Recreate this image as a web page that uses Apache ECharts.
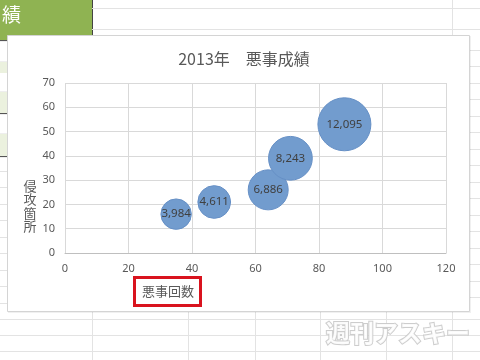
<!DOCTYPE html>
<html><head><meta charset="utf-8">
<script src="https://cdn.jsdelivr.net/npm/echarts@6/dist/echarts.min.js"></script>
<style>html,body{margin:0;padding:0;background:#fff}#c{width:480px;height:360px}</style>
</head><body><div id="c"></div>
<script>
// Data
const titleText = '2013年　悪事成績';
const xName = '悪事回数';
const yName = '侵攻箇所';
const crimes = [35, 47, 64, 71, 88];      // x: 悪事回数
const spots = [16, 21, 26, 39, 53];       // y: 侵攻箇所
const scores = [3984, 4611, 6886, 8243, 12095]; // bubble size
const xTicks = [0, 20, 40, 60, 80, 100, 120];
const yTicks = [0, 10, 20, 30, 40, 50, 60, 70];

const maxScore = Math.max(...scores);
const maxDiam = 53;
const data = crimes.map((x, i) => [x, spots[i], scores[i]]);

// spreadsheet background decoration
const bg = [];
const gridCol = '#e3e3e3';
function hline(y, x1, x2, c, w) { bg.push({type:'line', z:-20, shape:{x1:x1,y1:y,x2:x2,y2:y}, style:{stroke:c||gridCol, lineWidth:w||1}}); }
function vline(x, y1, y2, c) { bg.push({type:'line', z:-20, shape:{x1:x,y1:y1,x2:x,y2:y2}, style:{stroke:c||gridCol, lineWidth:1}}); }
// header green cells
bg.push({type:'rect', z:-19, shape:{x:0,y:0,width:92,height:30}, style:{fill:'#8fb352'}});
bg.push({type:'rect', z:-19, shape:{x:0,y:30,width:92,height:10}, style:{fill:'#8fb352'}});
bg.push({type:'text', z:-18, style:{text:'績', x:2, y:15, fill:'#fff', font:'19px "Noto Sans CJK JP"', verticalAlign:'middle'}});
hline(30.5, 0, 92, '#333', 1.5);
vline(92.5, 0, 40, '#444');
// left strip rows
[[62,73],[92,113],[134,156]].forEach(r=>bg.push({type:'rect', z:-19, shape:{x:0,y:r[0],width:7,height:r[1]-r[0]}, style:{fill:'#ebf1de'}}));
[40,62,92,113,134,156].forEach(y=>hline(y+0.5,0,7,'#555',1.2));
[171,187,204,220,237,253,270,286,303].forEach(y=>hline(y+0.5,0,7));
// top / right rows
[8,29].forEach(y=>hline(y+0.5,92,480));
[50,66,83,99,116,132,149,165,182,198,215,231,248,264,281,297].forEach(y=>hline(y+0.5,470,480));
[319,335,351].forEach(y=>hline(y+0.5,0,480));
[92,188,255,320,386,452].forEach(x=>vline(x+0.5,312,360));
vline(452.5,0,35);
// chart area box
bg.push({type:'rect', z:-10, shape:{x:8,y:36,width:463,height:277}, style:{fill:'rgba(0,0,0,0.06)'}});
bg.push({type:'rect', z:-9, shape:{x:7.5,y:35.5,width:462,height:276}, style:{fill:'#fff', stroke:'#d4d4d4', lineWidth:1}});

const option = {
  backgroundColor: '#fff',
  animation: false,
  title: {
    text: titleText, left: 239, top: 46, textAlign: 'center',
    textStyle: {fontFamily: '"Noto Sans CJK JP"', fontSize: 16, fontWeight: 'normal', color: '#595959'}
  },
  grid: {left: 65, top: 83, right: 34, bottom: 107},
  xAxis: {
    type: 'value', min: 0, max: 120, interval: 20,
    axisLine: {show: true, lineStyle: {color: '#bfbfbf'}},
    axisTick: {show: false},
    splitLine: {show: true, lineStyle: {color: '#d9d9d9'}},
    axisLabel: {color: '#595959', fontSize: 11, margin: 10, fontFamily: '"Noto Sans"',
      formatter: v => xTicks.includes(v) ? String(v) : ''}
  },
  yAxis: {
    type: 'value', min: 0, max: 70, interval: 10,
    axisLine: {show: false},
    axisTick: {show: false},
    splitLine: {show: true, lineStyle: {color: '#d9d9d9'}},
    axisLabel: {color: '#595959', fontSize: 11, margin: 10, fontFamily: '"Noto Sans"',
      formatter: v => yTicks.includes(v) ? String(v) : ''}
  },
  graphic: bg.concat([
    {type:'text', z:10, style:{text: yName.split('').join('\n'), x:30, y:206, align:'center', verticalAlign:'middle',
      fill:'#595959', font:'13px "Noto Sans CJK JP"', lineHeight:13.5}},
    {type:'rect', z:10, shape:{x:134.5,y:277.5,width:66,height:28}, style:{fill:'none', stroke:'#d9131e', lineWidth:3}},
    {type:'text', z:10, style:{text: xName, x:168, y:291, align:'center', verticalAlign:'middle',
      fill:'#595959', font:'13px "Noto Sans CJK JP"'}},
    {type:'text', z:10, style:{text:'週刊アスキー', x:398, y:333, align:'center', verticalAlign:'middle',
      fill:'#ffffff', stroke:'#c8c8c8', lineWidth:2, font:'bold 24px "Noto Sans CJK JP"', opacity:0.9}}
  ]),
  series: [{
    type: 'scatter',
    data: data,
    symbolSize: d => maxDiam * Math.sqrt(d[2] / maxScore),
    itemStyle: {color: '#729cce', borderColor: '#6690c6', borderWidth: 1, opacity: 1},
    label: {show: true, position: 'inside', color: '#404040', fontSize: 11.5, fontFamily: '"Noto Sans"',
      formatter: p => p.value[2].toLocaleString('en-US')},
    z: 5
  }]
};
const chart = echarts.init(document.getElementById('c'), null, {renderer: 'canvas'});
chart.setOption(option);
</script></body></html>
